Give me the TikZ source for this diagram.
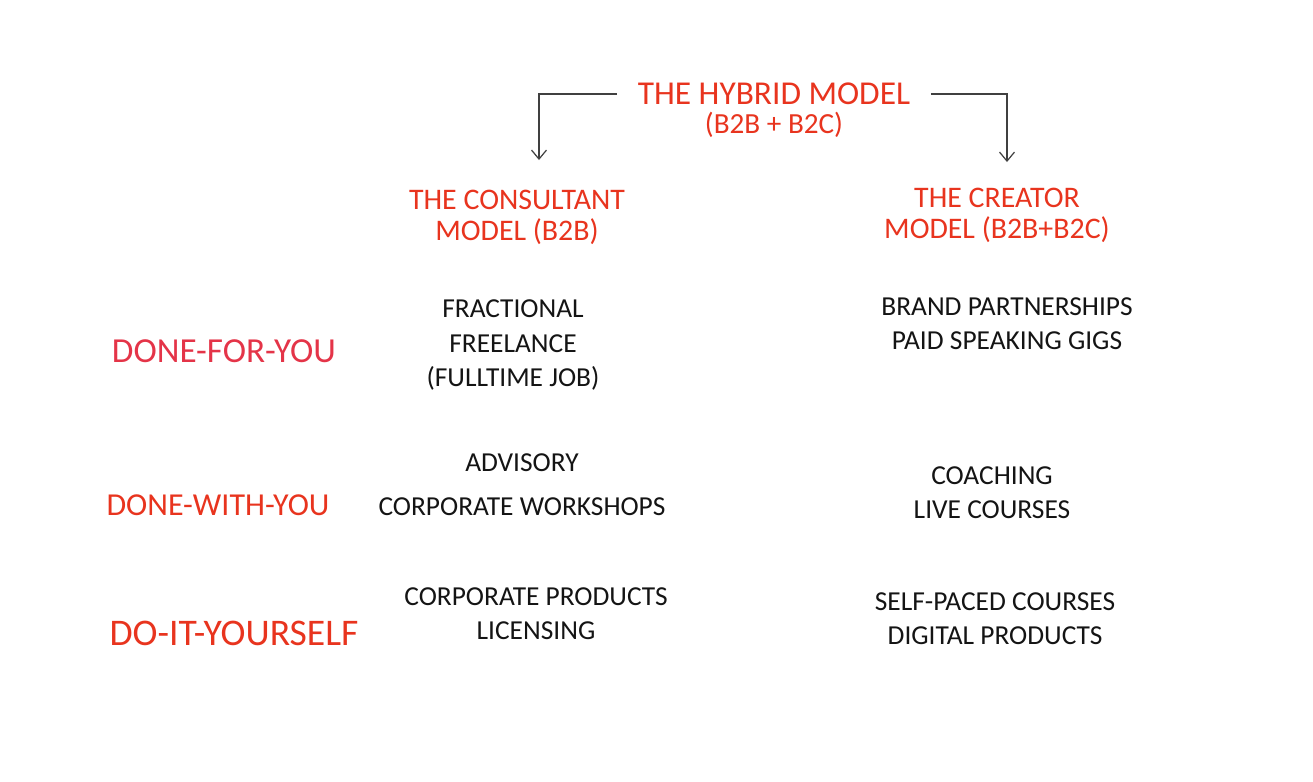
\documentclass[tikz,border=0pt]{standalone}
\usepackage{fontspec}
\setmainfont{Carlito}
\usepackage{xcolor}
\usepackage{tikz}
\usetikzlibrary{arrows.meta,positioning}

\definecolor{inkred}{RGB}{232,52,30}
\definecolor{inkpink}{RGB}{228,52,72}
\definecolor{inkblack}{RGB}{20,20,20}

\begin{document}
\begin{tikzpicture}[
    title/.style={text=inkred, font=\fontsize{9.5}{11}\selectfont, inner xsep=2mm, inner ysep=0pt},
    head/.style={text=inkred, align=center, font=\fontsize{8.5}{8.8}\selectfont},
    rowlab/.style={text=inkred, font=\fontsize{10}{12}\selectfont},
    item/.style={text=inkblack, align=center, font=\fontsize{7.8}{9.7}\selectfont},
    edge/.style={-{Straight Barb[length=0.9mm,width=1.5mm]}, line width=0.35pt, draw=black!75}
]
    \useasboundingbox (0,0) rectangle (13.13,-7.81);

    % top of the tree
    \node[title] (hybrid) at (7.74,-0.94) {THE HYBRID MODEL};
    \node[title, font=\fontsize{8.3}{10}\selectfont] (hybridsub) at (7.74,-1.25) {(B2B + B2C)};
    \coordinate (toleft) at (5.39,-1.60);
    \coordinate (toright) at (10.07,-1.62);

    \node[head] (consultant) at (5.17,-2.17) {THE CONSULTANT\\MODEL (B2B)};
    \node[head] (creator) at (9.97,-2.15) {THE CREATOR\\MODEL (B2B+B2C)};

    \draw[edge] (hybrid.west) -| (toleft);
    \draw[edge] (hybrid.east) -| (toright);

    % rows
    \node[rowlab, text=inkpink] (dfy) at (2.24,-3.51) {DONE-FOR-YOU};
    \node[rowlab, font=\fontsize{9.1}{11}\selectfont] (dwy) at (2.18,-5.05) {DONE-WITH-YOU};
    \node[rowlab, font=\fontsize{10.7}{12}\selectfont] (diy) at (2.34,-6.33) {DO-IT-YOURSELF};

    \node[item] (fractional) at (5.13,-3.45) {FRACTIONAL\\FREELANCE\\(FULLTIME JOB)};
    \node[item] (brand) at (10.07,-3.24) {BRAND PARTNERSHIPS\\PAID SPEAKING GIGS};
    \node[item] (advisory) at (5.22,-4.85) {ADVISORY\\[1mm]CORPORATE WORKSHOPS};
    \node[item] (coaching) at (9.92,-4.93) {COACHING\\LIVE COURSES};
    \node[item] (corporate) at (5.36,-6.14) {CORPORATE PRODUCTS\\LICENSING};
    \node[item] (selfpaced) at (9.95,-6.19) {SELF-PACED COURSES\\DIGITAL PRODUCTS};
\end{tikzpicture}
\end{document}
